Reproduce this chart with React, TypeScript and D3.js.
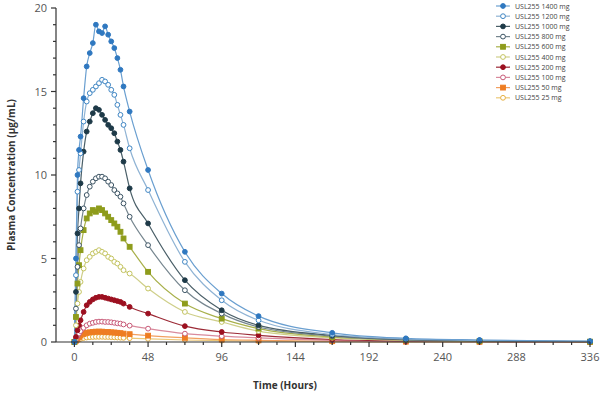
import * as d3 from "d3";

// sampling times (hours)
const times = [0, 1, 2, 3, 4, 6, 8, 10, 12, 14, 16, 18, 20, 22, 24, 26, 28, 30, 32, 36, 48, 72, 96, 120, 168, 216, 264, 336];

const dose1400 = [0, 5, 10, 11.5, 12.3, 14.6, 16.5, 17.3, 17.9, 19.0, 18.6, 18.5, 18.9, 18.4, 18.0, 17.6, 17.0, 16.3, 15.3, 13.8, 10.3, 5.4, 2.9, 1.55, 0.55, 0.22, 0.12, 0.05];
const dose1200 = [0, 4, 9, 10.3, 11.3, 13.2, 14.4, 14.9, 15.1, 15.3, 15.5, 15.7, 15.6, 15.4, 15.1, 14.8, 14.2, 13.6, 13.0, 11.6, 9.1, 4.8, 2.5, 1.3, 0.45, 0.18, 0.1, 0.04];
const dose1000 = [0, 3, 6.5, 8, 9.5, 11.4, 12.6, 13.2, 13.7, 14.0, 13.9, 13.6, 13.3, 13.0, 12.8, 12.5, 12.0, 11.5, 10.8, 9.2, 7.1, 3.7, 1.9, 1.0, 0.4, 0.15, 0.08, 0.03];
const dose800 = [0, 2, 4.5, 5.8, 6.8, 8.0, 8.8, 9.3, 9.6, 9.8, 9.9, 9.9, 9.8, 9.6, 9.4, 9.1, 8.9, 8.7, 8.3, 7.5, 5.8, 3.1, 1.7, 0.9, 0.35, 0.13, 0.07, 0.03];
const dose600 = [0, 1.5, 3.5, 4.6, 5.5, 6.7, 7.4, 7.7, 7.9, 7.8, 8.0, 7.9, 7.7, 7.5, 7.3, 7.1, 6.9, 6.6, 6.2, 5.7, 4.2, 2.3, 1.4, 0.8, 0.3, 0.12, 0.06, 0.02];
const dose400 = [0, 1, 2.3, 3.0, 3.6, 4.4, 4.9, 5.1, 5.3, 5.4, 5.5, 5.4, 5.3, 5.1, 5.0, 4.8, 4.7, 4.5, 4.3, 4.1, 3.2, 1.8, 1.2, 0.65, 0.25, 0.1, 0.05, 0.02];
const dose200 = [0, 0.3, 0.7, 1.0, 1.3, 1.8, 2.2, 2.4, 2.55, 2.65, 2.7, 2.7, 2.65, 2.6, 2.55, 2.5, 2.45, 2.4, 2.3, 2.1, 1.7, 0.95, 0.6, 0.4, 0.15, 0.06, 0.03, 0.01];
const dose100 = [0, 0.15, 0.35, 0.5, 0.65, 0.85, 1.0, 1.1, 1.15, 1.2, 1.22, 1.22, 1.2, 1.2, 1.18, 1.15, 1.12, 1.1, 1.05, 0.98, 0.8, 0.5, 0.35, 0.25, 0.1, 0.04, 0.02, 0.01];
const dose50 = [0, 0.08, 0.2, 0.3, 0.38, 0.48, 0.55, 0.58, 0.6, 0.62, 0.62, 0.62, 0.6, 0.6, 0.58, 0.57, 0.55, 0.53, 0.5, 0.47, 0.38, 0.25, 0.15, 0.1, 0.05, 0.02, 0.01, 0.005];
const dose25 = [0, 0.04, 0.1, 0.15, 0.19, 0.24, 0.27, 0.29, 0.3, 0.31, 0.31, 0.31, 0.3, 0.3, 0.29, 0.28, 0.27, 0.26, 0.25, 0.23, 0.19, 0.12, 0.08, 0.05, 0.02, 0.01, 0.005, 0.002];

const labels = ["USL255 1400 mg", "USL255 1200 mg", "USL255 1000 mg", "USL255 800 mg", "USL255 600 mg", "USL255 400 mg", "USL255 200 mg", "USL255 100 mg", "USL255 50 mg", "USL255 25 mg"];
const values = [dose1400, dose1200, dose1000, dose800, dose600, dose400, dose200, dose100, dose50, dose25];

const xTicks = [0, 48, 96, 144, 192, 240, 288, 336];
const yTicks = [0, 5, 10, 15, 20];

const styles = [
  { color: "#2f78c0", line: "#6a9fd0", filled: true, shape: "circle" },
  { color: "#3f86c4", line: "#8fb3d4", filled: false, shape: "circle" },
  { color: "#1e3a48", line: "#4a5f68", filled: true, shape: "circle" },
  { color: "#3c5464", line: "#76868f", filled: false, shape: "circle" },
  { color: "#8e9c1c", line: "#a8b04a", filled: true, shape: "square" },
  { color: "#c4c460", line: "#cfcf8a", filled: false, shape: "circle" },
  { color: "#9c1020", line: "#9c2a36", filled: true, shape: "circle" },
  { color: "#c85a78", line: "#d98a9c", filled: false, shape: "circle" },
  { color: "#ee7d22", line: "#f2a060", filled: true, shape: "square" },
  { color: "#e6b040", line: "#ecc878", filled: false, shape: "circle" },
];

function Marker({ cx, cy, s }: { cx: number; cy: number; s: (typeof styles)[number] }) {
  const fill = s.filled ? s.color : "white";
  if (s.shape === "square") {
    return <rect x={cx - 2.4} y={cy - 2.4} width={4.8} height={4.8} fill={fill} stroke={s.color} strokeWidth={1} />;
  }
  return <circle cx={cx} cy={cy} r={2.4} fill={fill} stroke={s.color} strokeWidth={1} />;
}

export default function App() {
  const width = 600;
  const height = 400;
  const x = d3.scaleLinear().domain([-12, 336]).range([56, 590]);
  const y = d3.scaleLinear().domain([0, 20]).range([342, 8]);
  const line = d3
    .line<number>()
    .x((_, i) => x(times[i]))
    .y(d => y(d))
    .curve(d3.curveMonotoneX);

  const order = d3.range(values.length).reverse();
  const font = "'Open Sans', 'Liberation Sans', sans-serif";

  return (
    <svg width={width} height={height} style={{ position: "absolute", left: 0, top: 0, background: "white" }} fontFamily={font}>
      {order.map(k => (
        <path key={"l" + k} d={line(values[k]) ?? undefined} fill="none" stroke={styles[k].line} strokeWidth={1.2} />
      ))}
      {order.map(k => (
        <g key={"m" + k}>
          {values[k].map((v, i) => (
            <Marker key={i} cx={x(times[i])} cy={y(v)} s={styles[k]} />
          ))}
        </g>
      ))}

      {/* axes */}
      <g stroke="#333" strokeWidth={1.2}>
        <line x1={x(-12)} x2={x(336)} y1={y(0)} y2={y(0)} />
        <line x1={x(-12)} x2={x(-12)} y1={y(0)} y2={y(20)} />
        {d3.range(0, 337, 12).map(t => (
          <line key={"xt" + t} x1={x(t)} x2={x(t)} y1={y(0)} y2={y(0) + (t % 48 === 0 ? 5 : 3)} />
        ))}
        {d3.range(0, 21, 1).map(v => (
          <line key={"yt" + v} x1={x(-12)} x2={x(-12) - (v % 5 === 0 ? 5 : 3)} y1={y(v)} y2={y(v)} />
        ))}
      </g>
      {xTicks.map(t => (
        <text key={"xl" + t} x={x(t)} y={y(0) + 19} textAnchor="middle" fontSize={11} fill="#555">
          {t}
        </text>
      ))}
      {yTicks.map(v => (
        <text key={"yl" + v} x={x(-12) - 9} y={y(v) + 4} textAnchor="end" fontSize={11} fill="#555">
          {v}
        </text>
      ))}
      <text x={285} y={389} textAnchor="middle" fontSize={10} fontWeight="bold" fill="#333">
        Time (Hours)
      </text>
      <text transform={`translate(15,${y(10)}) rotate(-90)`} textAnchor="middle" fontSize={10} fontWeight="bold" fill="#333">
        Plasma Concentration (µg/mL)
      </text>

      {/* legend */}
      {labels.map((lab, k) => {
        const ly = 6 + k * 10.2;
        return (
          <g key={"lg" + k}>
            <line x1={496} x2={510} y1={ly} y2={ly} stroke={styles[k].line} strokeWidth={1.2} />
            <Marker cx={503} cy={ly} s={styles[k]} />
            <text x={515} y={ly + 2.5} fontSize={7} fill="#444">
              {lab}
            </text>
          </g>
        );
      })}
    </svg>
  );
}
